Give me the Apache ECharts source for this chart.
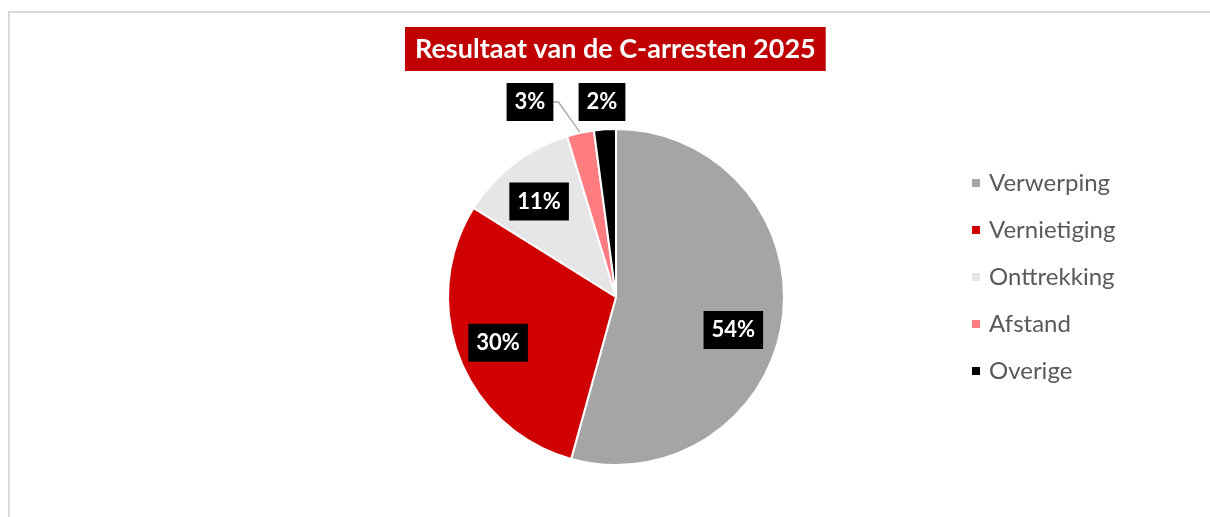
<!DOCTYPE html>
<html>
<head>
<meta charset="utf-8">
<script src="https://cdn.jsdelivr.net/npm/echarts@6/dist/echarts.min.js"></script>
<style>
  html, body { margin: 0; padding: 0; background: #fff; }
  #frame {
    position: absolute; left: 8px; top: 11px; width: 1300px; height: 600px;
    border: 2px solid #d9d9d9; box-sizing: border-box;
  }
  #chart { position: absolute; left: 0; top: 0; width: 1210px; height: 517px; }
</style>
</head>
<body>
<div id="frame"></div>
<div id="chart"></div>
<script>
  // data
  const categories = ["Verwerping", "Vernietiging", "Onttrekking", "Afstand", "Overige"];
  const values = [54.3, 29.6, 11.4, 2.6, 2.1];
  const colors = ["#A5A5A5", "#D00000", "#E6E6E6", "#FF7C80", "#000000"];
  const titleText = "Resultaat van de C-arresten 2025";

  const chart = echarts.init(document.getElementById("chart"));

  const center = [616, 297];
  const radius = 168;

  const pieData = categories.map((name, i) => ({
    name: name,
    value: values[i],
    itemStyle: { color: colors[i] },
  }));

  // transparent ring only used to place labels further out
  const labelData = categories.map((name, i) => {
    const item = { name: name, value: values[i] };
    if (i === 3) {
      item.label = { position: "outside" };
      item.labelLine = { show: true };
    }
    if (i === 4) {
      item.label = { position: "outside" };
      item.labelLine = { show: false };
    }
    return item;
  });

  chart.setOption({
    animation: false,
    title: {
      text: titleText,
      left: 405,
      top: 27,
      padding: [7, 10],
      backgroundColor: "#C00000",
      textStyle: {
        color: "#fff",
        fontFamily: "Lato",
        fontWeight: "bold",
        fontSize: 27,
        lineHeight: 30,
      },
    },
    legend: {
      orient: "vertical",
      left: 970,
      top: 171,
      padding: 0,
      icon: "rect",
      itemWidth: 10,
      itemHeight: 10,
      itemGap: 23,
      data: categories,
      textStyle: {
        color: "#595959",
        fontFamily: "Lato",
        fontSize: 24,
        lineHeight: 24,
        padding: [0, 0, 0, 3],
      },
    },
    series: [
      {
        type: "pie",
        center: center,
        radius: radius,
        startAngle: 90,
        silent: true,
        data: pieData,
        itemStyle: { borderColor: "#fff", borderWidth: 2 },
        label: { show: false },
        labelLine: { show: false },
      },
      {
        type: "pie",
        center: center,
        radius: [radius * 0.47, radius],
        startAngle: 90,
        silent: true,
        avoidLabelOverlap: false,
        percentPrecision: 0,
        data: labelData,
        itemStyle: { color: "transparent" },
        label: {
          show: true,
          position: "inside",
          formatter: "{d}%",
          color: "#fff",
          backgroundColor: "#000",
          fontFamily: "Lato",
          fontWeight: "bold",
          fontSize: 22,
          lineHeight: 25,
          padding: [7, 8, 6, 8],
        },
        labelLine: {
          show: false,
          length: 15,
          length2: 5,
          lineStyle: { color: "#A6A6A6", width: 1.3 },
        },
        labelLayout: function (p) {
          if (p.dataIndex === 0) {
            return { dx: -8, dy: 16 };
          }
          if (p.dataIndex === 2) {
            return { dy: 5 };
          }
          if (p.dataIndex === 3) {
            return { x: center[0] - 86, y: center[1] - 195, align: "center", verticalAlign: "middle" };
          }
          if (p.dataIndex === 4) {
            return { x: center[0] - 14, y: center[1] - 195, align: "center", verticalAlign: "middle" };
          }
          return {};
        },
      },
    ],
  });
</script>
</body>
</html>
